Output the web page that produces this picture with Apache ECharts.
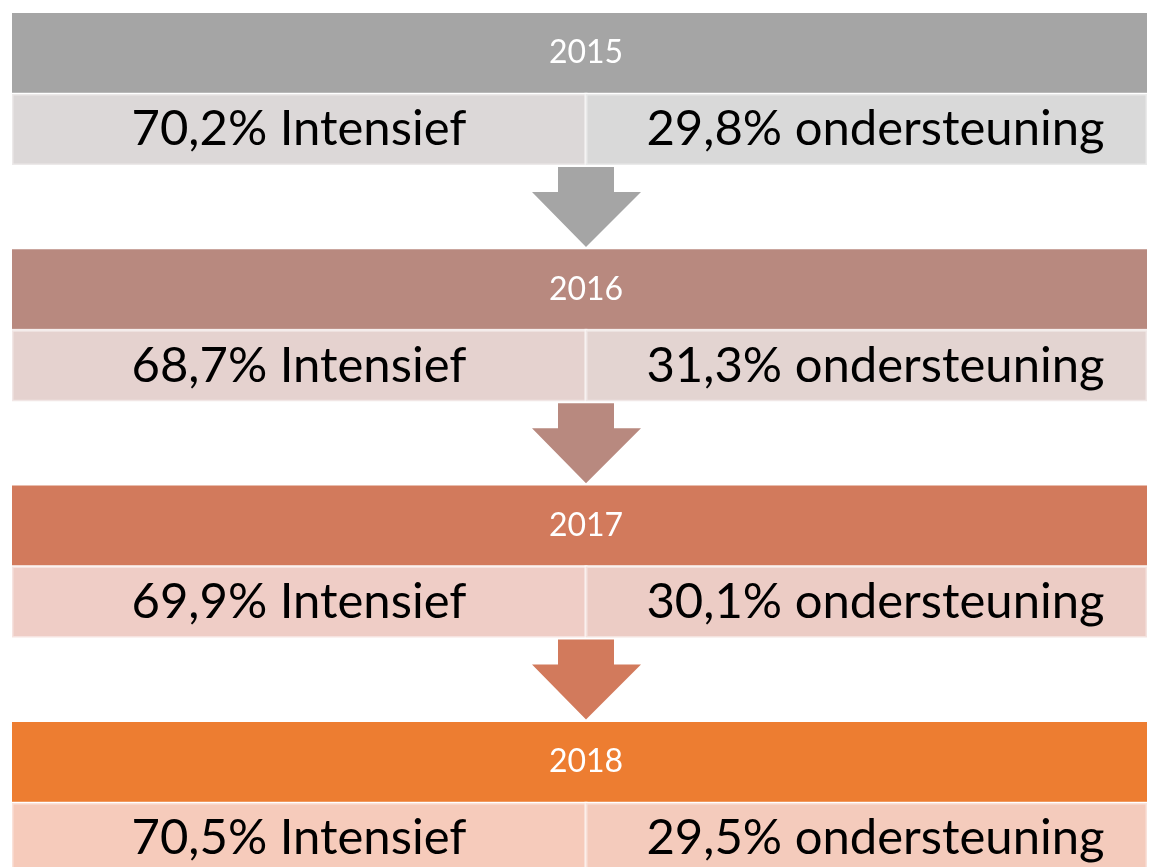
<!DOCTYPE html>
<html>
<head>
<meta charset="utf-8">
<script src="https://cdn.jsdelivr.net/npm/echarts@6/dist/echarts.min.js"></script>
<style>
  html, body { margin: 0; padding: 0; background: #fff; }
  #chart { width: 1149px; height: 867px; }
</style>
</head>
<body>
<div id="chart"></div>
<script>
// data
const years = ['2015', '2016', '2017', '2018']
const intensief = [70.2, 68.7, 69.9, 70.5]
const ondersteuning = [29.8, 31.3, 30.1, 29.5]

// styles
const headerColors = ['#a5a5a5', '#b8897f', '#d27a5c', '#ed7d31']
const leftColors = ['#dcd8d8', '#e5d2cf', '#efcdc6', '#f6cbbb']
const rightColors = ['#d9d9d9', '#e3d4d1', '#ecccc5', '#f4cbbc']

// layout (in axis units = px of the 1149x867 frame)
const STEP = 236.3, TOP = 13, HEAD_H = 80, SUB_H = 71
const X0 = 12, X1 = 1147, XMID = 586

const fmt = v => v.toFixed(1).replace('.', ',') + '%'

const chart = echarts.init(document.getElementById('chart'))

function renderItem(params, api) {
    const i = api.value(0)
    const y0 = TOP + i * STEP
    const p = (x, y) => api.coord([x, y])
    const tl = p(X0, y0), br = p(X1, y0 + HEAD_H)
    const subTop = y0 + HEAD_H + 1
    const sTl = p(X0, subTop), sMid = p(XMID, subTop + SUB_H), sBr = p(X1, subTop + SUB_H)
    const children = [
        {type: 'rect', shape: {x: tl[0], y: tl[1], width: br[0] - tl[0], height: br[1] - tl[1]},
         style: {fill: headerColors[i]}},
        {type: 'text', style: {text: years[i], x: sMid[0], y: (tl[1] + br[1]) / 2,
         fill: '#fff', font: '32px Lato', align: 'center', verticalAlign: 'middle'}},
        {type: 'rect', shape: {x: sTl[0], y: sTl[1], width: sMid[0] - sTl[0], height: sMid[1] - sTl[1]},
         style: {fill: leftColors[i], stroke: 'rgba(255,255,255,0.45)', lineWidth: 3}},
        {type: 'rect', shape: {x: sMid[0], y: sTl[1], width: sBr[0] - sMid[0], height: sBr[1] - sTl[1]},
         style: {fill: rightColors[i], stroke: 'rgba(255,255,255,0.45)', lineWidth: 3}},
        {type: 'text', style: {text: fmt(intensief[i]) + ' Intensief', x: (sTl[0] + sMid[0]) / 2,
         y: (sTl[1] + sBr[1]) / 2, fill: '#000', font: '49px Lato', align: 'center', verticalAlign: 'middle'}},
        {type: 'text', style: {text: fmt(ondersteuning[i]) + ' ondersteuning', x: (sMid[0] + sBr[0]) / 2 + 9,
         y: (sTl[1] + sBr[1]) / 2, fill: '#000', font: '49px Lato', align: 'center', verticalAlign: 'middle'}}
    ]
    if (i < years.length - 1) {
        const a0 = subTop + SUB_H + 2
        const pts = [[558, a0], [614, a0], [614, a0 + 25], [641, a0 + 25], [586, a0 + 80],
                     [532, a0 + 25], [558, a0 + 25]].map(q => p(q[0], q[1]))
        children.push({type: 'polygon', shape: {points: pts}, style: {fill: headerColors[i]}})
    }
    return {type: 'group', children}
}

chart.setOption({
    animation: false,
    grid: {left: 0, right: 0, top: 0, bottom: 0},
    xAxis: {type: 'value', min: 0, max: 1149, show: false},
    yAxis: {type: 'value', min: 0, max: 867, inverse: true, show: false},
    series: [{
        type: 'custom',
        renderItem,
        clip: false,
        data: years.map((y, i) => [i])
    }]
})
</script>
</body>
</html>
